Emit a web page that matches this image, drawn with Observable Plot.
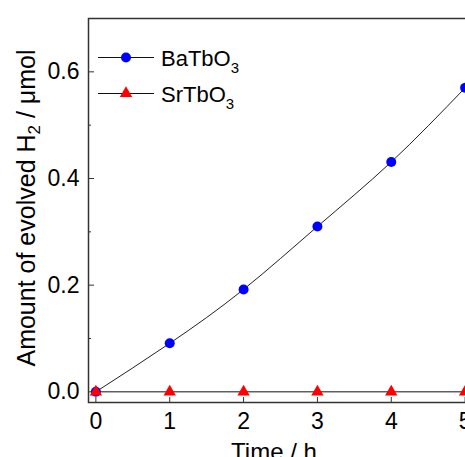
<!DOCTYPE html>
<html>
<head>
<meta charset="utf-8">
<script src="https://cdn.jsdelivr.net/npm/d3@7"></script>
<script src="https://cdn.jsdelivr.net/npm/@observablehq/plot@0.6"></script>
<style>
  html, body { margin: 0; padding: 0; background: #fff; overflow: hidden; }
  #chart { width: 465px; height: 457px; overflow: hidden; }
  #chart svg { max-width: none !important; display: block; }
</style>
</head>
<body>
<div id="chart"></div>
<script>
// ---- data ----
const times = [0, 1, 2, 3, 4, 5];
const batbo3 = [0.0, 0.091, 0.192, 0.31, 0.431, 0.57];
const srtbo3 = [0.0, 0.0, 0.0, 0.0, 0.0, 0.0];
const xTicks = [0, 1, 2, 3, 4, 5];
const yTicks = [0.0, 0.2, 0.4, 0.6];
const yMinorTicks = [0.1, 0.3, 0.5];
const seriesNames = ["BaTbO", "SrTbO"];
const seriesSub = "3";
const xLabel = "Time / h";
const yLabelMain = "Amount of evolved H";
const yLabelSub = "2";
const yLabelTail = " / μmol";

const ba = times.map((t, i) => ({x: t, y: batbo3[i]}));
const sr = times.map((t, i) => ({x: t, y: srtbo3[i]}));

const font = "'Liberation Sans', Arial, sans-serif";

const chart = Plot.plot({
  width: 482,
  height: 457,
  marginLeft: 88,
  marginRight: 10,
  marginTop: 18,
  marginBottom: 55,
  x: {domain: [-0.1, 5.1]},
  y: {domain: [-0.02, 0.7]},
  style: {fontFamily: font, fontSize: "23px", color: "#000", background: "#fff", maxWidth: "none"},
  marks: [
    Plot.axisX({ticks: xTicks, tickSize: -5, text: null, label: null, stroke: "#333"}),
    Plot.axisX({ticks: xTicks, tickSize: 0, tickPadding: 10, tickFormat: d => String(d), label: null, fontSize: 23}),
    Plot.axisY({ticks: yTicks, tickSize: -6, text: null, label: null, stroke: "#333"}),
    Plot.axisY({ticks: yMinorTicks, tickSize: -3, text: null, label: null, stroke: "#333"}),
    Plot.axisY({ticks: yTicks, tickSize: 0, tickPadding: 9, tickFormat: d3.format(".1f"), label: null, fontSize: 23}),
    Plot.frame({stroke: "#333", strokeWidth: 1.5}),
    Plot.line(ba, {x: "x", y: "y", curve: "natural", stroke: "#222", strokeWidth: 1}),
    Plot.line(sr, {x: "x", y: "y", stroke: "#111", strokeWidth: 1}),
    Plot.dot(ba, {x: "x", y: "y", r: 5, fill: "#0000ff", symbol: "circle"}),
    Plot.dot(sr, {x: "x", y: "y", r: 4.6, fill: "#ff0000", symbol: "triangle"})
  ]
});

chart.style.maxWidth = "none";
chart.setAttribute("width", 482);
chart.setAttribute("height", 457);
document.getElementById("chart").appendChild(chart);

const svg = d3.select(chart);

// y-axis label
const yl = svg.append("text")
  .attr("transform", "translate(35,208) rotate(-90)")
  .attr("text-anchor", "middle")
  .attr("font-family", font)
  .attr("font-size", 25)
  .attr("fill", "#000");
yl.append("tspan").text(yLabelMain);
yl.append("tspan").attr("font-size", 17).attr("dy", 5).text(yLabelSub);
yl.append("tspan").attr("dy", -5).text(yLabelTail);

// x-axis label
svg.append("text")
  .attr("x", 274).attr("y", 460)
  .attr("text-anchor", "middle")
  .attr("font-family", font)
  .attr("font-size", 24)
  .attr("fill", "#000")
  .text(xLabel);

// legend
const legendRows = [
  {name: seriesNames[0], color: "#0000ff", symbol: d3.symbolCircle, size: Math.PI * 25, y: 57.5},
  {name: seriesNames[1], color: "#ff0000", symbol: d3.symbolTriangle, size: Math.PI * 4.6 * 4.6, y: 93.5}
];
const lg = svg.append("g");
legendRows.forEach(r => {
  lg.append("line").attr("x1", 98).attr("x2", 154).attr("y1", r.y).attr("y2", r.y)
    .attr("stroke", "#111").attr("stroke-width", 1);
  lg.append("path").attr("d", d3.symbol(r.symbol, r.size)())
    .attr("transform", `translate(126,${r.y})`).attr("fill", r.color);
  const t = lg.append("text").attr("x", 161).attr("y", r.y + 8)
    .attr("text-anchor", "start")
    .attr("font-family", font).attr("font-size", 22).attr("fill", "#000");
  t.append("tspan").text(r.name);
  t.append("tspan").attr("font-size", 15).attr("dy", 7).text(seriesSub);
});
</script>
</body>
</html>
